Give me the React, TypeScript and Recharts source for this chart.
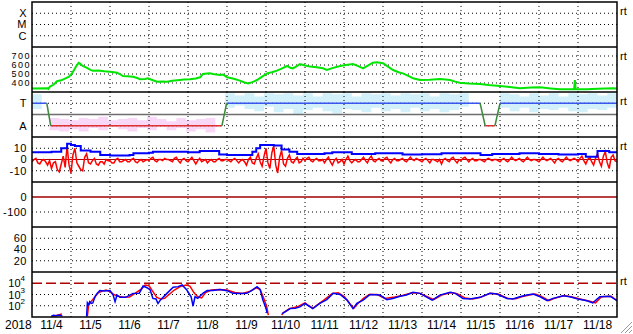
import React from 'react';
import { ComposedChart, Line, Area, XAxis, YAxis, ReferenceLine } from 'recharts';

// time axis is in days counted from 11/4 00:00 UT
const dayLabels = ['11/4', '11/5', '11/6', '11/7', '11/8', '11/9', '11/10', '11/11', '11/12', '11/13', '11/14', '11/15', '11/16', '11/17', '11/18'];
const dayBreaks = [1, 2, 3, 4, 5, 6, 7, 8, 9, 10, 11, 12, 13, 14];

const flareClasses = ['C', 'M', 'X'];
const sectorNames: Record<number, string> = { 1: 'A', 3: 'T' };
const fluxExp: Record<number, string> = { 100: '2', 1000: '3', 10000: '4' };

// solar wind speed (km/s)
const speedPoints: [number, number][] = [
  [0, 340], [0.4, 341], [0.42, 335], [0.46, 360], [0.55, 380], [0.64, 420], [0.75, 430], [0.9, 460], [0.95, 470],
  [1.03, 510], [1.1, 560], [1.15, 600], [1.2, 625], [1.23, 615], [1.3, 590], [1.41, 567], [1.5, 545], [1.56, 537],
  [1.7, 540], [1.85, 530], [2.0, 526], [2.1, 520], [2.18, 515], [2.25, 500], [2.33, 478], [2.45, 475], [2.59, 470],
  [2.7, 455], [2.77, 441], [2.9, 445], [2.97, 452], [3.1, 430], [3.21, 415], [3.35, 418], [3.46, 415], [3.6, 425],
  [3.79, 433], [3.9, 438], [4.05, 441], [4.2, 450], [4.31, 463], [4.38, 500], [4.5, 505], [4.56, 507], [4.64, 500],
  [4.82, 489], [4.9, 495], [5.0, 463], [5.15, 450], [5.33, 426], [5.45, 405], [5.54, 396], [5.65, 410], [5.77, 433],
  [5.9, 470], [6.03, 507], [6.15, 520], [6.28, 537], [6.4, 560], [6.54, 589], [6.62, 570], [6.69, 563], [6.8, 590],
  [6.87, 611], [7.0, 595], [7.13, 582], [7.3, 575], [7.46, 563], [7.56, 544], [7.7, 565], [7.9, 589], [8.05, 600],
  [8.23, 611], [8.35, 590], [8.49, 563], [8.6, 590], [8.74, 626], [8.85, 630], [9.0, 619], [9.1, 590], [9.26, 544],
  [9.4, 520], [9.51, 507], [9.65, 480], [9.77, 452], [9.95, 433], [10.2, 435], [10.46, 444], [10.6, 438], [10.72, 433],
  [10.85, 415], [10.97, 404], [11.2, 395], [11.49, 389], [11.7, 378], [12.0, 367], [12.25, 355], [12.51, 341],
  [12.8, 350], [13.03, 352], [13.3, 340], [13.54, 330], [13.9, 330], [13.92, 433], [13.94, 330], [14.23, 330],
  [14.5, 335], [14.9, 341], [15, 340],
];

// IMF sector: toward (T) and away (A) spans
const towardSpans: [number, number][] = [[0, 0.38], [4.99, 11.49], [12.0, 15]];
const awaySpans: [number, number][] = [[0.48, 4.87], [11.62, 11.87]];

// IMF angle scatter, drawn as light bands [day, low, high]
const towardCloud: [number, number | null, number | null][] = [
  [0, 2.5, 3.8], [0.25, 2.3, 3.9], [0.45, null, null], [0.8, 3.3, 3.9], [0.95, null, null],
  [4.95, 2.6, 3.9], [5.2, 2.8, 3.7], [5.45, 2.5, 3.9], [5.7, 2.3, 3.6], [5.95, 2.7, 3.9], [6.2, 2.2, 3.8],
  [6.45, 2.5, 3.9], [6.7, 2.0, 3.7], [6.95, 2.4, 3.9], [7.2, 2.6, 3.6], [7.45, 2.3, 3.9], [7.7, 2.1, 3.8],
  [7.95, 2.5, 3.9], [8.2, 2.4, 3.6], [8.45, 2.2, 3.9], [8.7, 2.6, 3.8], [8.95, 2.3, 3.9], [9.2, 2.5, 3.7],
  [9.45, 2.2, 3.9], [9.7, 2.6, 3.8], [9.95, 2.3, 3.9], [10.2, 2.5, 3.6], [10.45, 2.2, 3.9], [10.7, 2.4, 3.8],
  [10.95, 2.7, 3.9], [11.2, 2.3, 3.7], [11.45, null, null],
  [12.0, 2.6, 3.9], [12.25, 2.3, 3.8], [12.5, 2.6, 3.6], [12.75, 2.2, 3.9], [13.0, 2.5, 3.7], [13.25, 2.4, 3.9],
  [13.5, 2.6, 3.6], [13.75, 2.3, 3.9], [14.0, 2.2, 3.8], [14.25, 2.5, 3.9], [14.5, 2.4, 3.7], [14.75, 2.6, 3.9],
  [15, 2.6, 3.9],
];
const awayCloud: [number, number | null, number | null][] = [
  [0.45, 0.6, 1.7], [0.7, 0.5, 1.6], [0.95, 0.7, 1.5], [1.2, 0.5, 1.7], [1.45, 0.8, 1.6], [1.7, 0.6, 1.8],
  [1.95, 0.9, 1.5], [2.2, 0.7, 1.6], [2.45, 0.5, 1.7], [2.7, 0.8, 1.5], [2.95, 0.6, 1.8], [3.2, 0.9, 1.6],
  [3.45, 0.6, 1.4], [3.7, 0.8, 1.7], [3.95, 0.5, 1.5], [4.2, 0.7, 1.6], [4.45, 0.4, 1.7], [4.7, 0.5, 1.8],
  [4.95, null, null], [5.1, 0.9, 1.6], [5.4, null, null],
  [11.55, 0.4, 1.7], [11.85, null, null], [14.85, 0.4, 1.6], [14.95, null, null],
];

// IMF |B| (nT)
const btPoints: [number, number][] = [
  [0, 6.5], [0.5, 7], [0.75, 10], [0.9, 14], [1.0, 13], [1.1, 12], [1.25, 8], [1.5, 7], [1.75, 4], [2.0, 3.5],
  [2.5, 4], [2.6, 5.5], [3.0, 6], [3.1, 7], [3.5, 7], [4.0, 6.5], [4.3, 7.5], [4.8, 4.5], [5.0, 4], [5.5, 4],
  [5.65, 7], [5.75, 10], [5.85, 13], [6.2, 12.5], [6.4, 9], [6.6, 7], [6.8, 5], [7.5, 5.5], [7.7, 6.4], [8.2, 5],
  [8.8, 5.5], [9.5, 4.5], [10.0, 4.6], [10.5, 5.5], [11.5, 4], [11.8, 5], [12.5, 5.5], [13.0, 5], [13.5, 4.5],
  [14.0, 5], [14.2, 2.5], [14.5, 7.5], [14.8, 6.5], [15, 6.5],
];

// IMF Bz (nT), one value every 0.05 day (ten per row = half a day)
const bzStep = 0.05;
const bzValues = [
  -2, 0, 1, -3, -4, -1, 0, -2, -5, -1,
  -8, -3, -2, -9, -11, -4, 3, -7, 12, -5,
  -12, 4, 10, -3, -6, -9, -10, 2, 5, -3,
  -4, -1, 1, -4, -5, -2, -2, -4, 0, -1,
  -1, -3, -3, 0, 1, -2, -2, -1, 0, -2,
  -2, 0, 1, -2, -3, -1, 0, -2, -1, 0,
  -1, 1, 2, -1, -2, 0, 0, -1, 1, 0,
  0, -1, -2, 1, 2, -1, -3, 0, 1, -1,
  -2, 0, 2, -1, -4, -1, 1, -2, -1, 0,
  -3, -1, 0, -2, -2, 0, 1, -1, -1, 0,
  0, -1, -2, 0, 1, -1, -3, -1, 0, -2,
  -5, 0, 2, -3, -4, 1, 5, -2, -6, 3,
  10, -3, -8, 6, 12, -5, -12, 2, 8, -4,
  -6, 1, 4, -2, -3, 0, 2, -3, -2, 1,
  -1, 1, 2, -1, -2, 0, 1, -1, -1, 0,
  -3, 0, 2, -2, -5, -1, 1, -3, -2, 0,
  -4, 0, 3, -1, -3, -1, 0, -2, -2, 0,
  2, -1, -3, 1, 3, -1, -2, 0, 1, -1,
  -1, 1, 2, -1, -3, 0, 1, -1, -1, 0,
  1, -1, -2, 0, 2, 0, -1, 1, 0, -1,
  -2, 0, 1, -1, -3, 0, 0, -1, -2, 0,
  -4, 0, 1, -1, -2, 1, 2, -1, -3, 0,
  -1, 1, 2, 0, -2, 0, 1, -1, -1, 0,
  0, -1, -2, 0, 1, 0, -1, 0, 0, -1,
  -2, 0, 1, -1, -2, 0, 2, 0, -1, 0,
  1, -1, -2, 0, 2, 0, -1, 0, 0, -1,
  -2, 0, 2, 0, -1, 0, 1, -1, -3, 0,
  1, -1, -2, 0, 2, 0, -1, 0, 1, 0,
  -2, 1, 3, -1, -4, 0, 2, -2, -5, 1,
  5, -2, -6, 3, 7, -3, -8, 2, 4, -1,
  -2,
];

// particle flux (log scale), two channels
const fluxBlue: [number, number | null][] = [
  [0.5, 12], [0.55, 14], [0.62, 13], [0.7, 15], [0.78, 12], [0.8, null],
  [1.4, 11], [1.42, 180], [1.45, 120], [1.48, 230], [1.52, 160], [1.56, 180], [1.62, 700], [1.67, 1260],
  [1.74, 2240], [1.85, 2000], [2.0, 2240], [2.08, 900], [2.13, 230], [2.18, 890], [2.26, 560], [2.4, 560],
  [2.59, 1260], [2.75, 1300], [2.85, 5620], [2.95, 4000], [3.03, 2510], [3.1, 450], [3.18, 400], [3.23, 160],
  [3.3, 350], [3.46, 1260], [3.62, 4470], [3.75, 5000], [3.85, 7080], [3.97, 2510], [4.08, 630], [4.13, 95],
  [4.18, 630], [4.25, 450], [4.38, 1260], [4.49, 2240], [4.64, 2240], [4.82, 2820], [5.0, 2200], [5.15, 1260],
  [5.35, 1200], [5.51, 1260], [5.65, 2500], [5.77, 5000], [5.85, 2820], [5.92, 320], [6.0, 60], [6.03, 22],
  [6.05, null],
  [6.41, 20], [6.5, 30], [6.62, 56], [6.75, 60], [6.87, 79], [7.0, 160], [7.05, 120], [7.2, 56], [7.38, 160],
  [7.56, 350], [7.72, 1260], [7.9, 1000], [8.08, 320], [8.23, 56], [8.33, 160], [8.49, 320], [8.67, 1000],
  [8.92, 890], [9.1, 350], [9.25, 450], [9.44, 710], [9.6, 900], [9.77, 1580], [9.95, 1260], [10.13, 560],
  [10.26, 320], [10.46, 890], [10.72, 1580], [10.85, 1260], [11.05, 450], [11.23, 400], [11.49, 560],
  [11.74, 1260], [11.92, 1100], [12.18, 450], [12.33, 400], [12.51, 630], [12.69, 890], [12.85, 1100],
  [13.03, 630], [13.21, 280], [13.36, 450], [13.62, 790], [13.79, 630], [14.0, 400], [14.23, 280], [14.38, 180],
  [14.56, 630], [14.82, 710], [15, 280],
];
const fluxRed: [number, number | null][] = [
  [0.5, 12], [0.6, 13], [0.7, 16], [0.77, 19], [0.8, null],
  [1.42, 11], [1.45, 100], [1.5, 200], [1.58, 450], [1.7, 1400], [1.8, 2000], [1.9, 2500], [2.0, 1800],
  [2.1, 1000], [2.2, 700], [2.35, 560], [2.5, 600], [2.65, 1300], [2.8, 3000], [2.9, 7000], [3.0, 6000],
  [3.1, 1800], [3.2, 560], [3.3, 400], [3.4, 450], [3.5, 900], [3.65, 2500], [3.8, 5000], [3.95, 7000],
  [4.05, 5600], [4.15, 1500], [4.25, 630], [4.35, 500], [4.45, 1500], [4.6, 2500], [4.8, 2800], [5.0, 2500],
  [5.2, 1500], [5.4, 1260], [5.6, 2000], [5.75, 4000], [5.85, 2800], [5.95, 400], [6.02, 80], [6.06, 15],
  [6.08, null],
  [6.4, 15], [6.45, 25], [6.6, 56], [6.8, 80], [7.0, 180], [7.1, 100], [7.2, 60], [7.35, 150], [7.5, 350],
  [7.7, 1260], [7.85, 1400], [8.0, 700], [8.15, 150], [8.25, 60], [8.35, 150], [8.5, 450], [8.65, 1000],
  [8.85, 1000], [9.05, 450], [9.3, 600], [9.5, 800], [9.75, 1400], [9.95, 1260], [10.15, 600], [10.3, 350],
  [10.5, 890], [10.75, 1500], [10.9, 1200], [11.1, 500], [11.3, 400], [11.5, 560], [11.75, 1260], [11.95, 1100],
  [12.2, 450], [12.4, 420], [12.55, 630], [12.75, 890], [12.9, 1100], [13.05, 700], [13.25, 280], [13.4, 450],
  [13.65, 800], [13.85, 600], [14.05, 400], [14.3, 250], [14.45, 180], [14.6, 630], [14.85, 700], [15, 280],
];

const W = 633;
const PLOT_LEFT = 32;
const PLOT_RIGHT = 617;
const PANEL_H = 45;
const DATE_H = 20;
const panelTops = [2, 47, 92, 137, 182, 227, 272];
const FONT = '"Liberation Sans", Arial, sans-serif';

const toRows = (pts: [number, number | null][]) => pts.map(([t, v]) => ({ t, v }));
const bandRows = (pts: [number, number | null, number | null][]) =>
  pts.map(([t, lo, hi]) => ({ t, r: lo == null ? null : [lo, hi] }));

const speedRows = toRows(speedPoints);
const btRows = toRows(btPoints);
const bzRows = bzValues.map((v, i) => ({ t: i * bzStep, v }));
const fluxBlueRows = toRows(fluxBlue);
const fluxRedRows = toRows(fluxRed);

const T_LEVEL = 3;
const A_LEVEL = 1;
const spanRows = (spans: [number, number][], level: number) =>
  spans.flatMap(([a, b]) => [{ t: a, v: level }, { t: b, v: level }, { t: b, v: null }]);
const allSpans = [
  ...towardSpans.map(([a, b]) => ({ a, b, lvl: T_LEVEL })),
  ...awaySpans.map(([a, b]) => ({ a, b, lvl: A_LEVEL })),
].sort((p, q) => p.a - q.a);
const shiftRows = allSpans.slice(1).flatMap((s, i) => {
  const prev = allSpans[i];
  return [{ t: prev.b, v: prev.lvl }, { t: s.a, v: s.lvl }, { t: s.a, v: null }];
});

const blank = [{ t: 0, v: null }, { t: 15, v: null }];

function FluxTick({ x, y, payload }: any) {
  return (
    <text x={x} y={y + 4} textAnchor="end" fontSize={11} fill="#000" fontFamily={FONT}>
      10<tspan dy={-6} fontSize={8}>{fluxExp[payload.value]}</tspan>
    </text>
  );
}

type PanelProps = {
  top: number;
  domain: [number, number];
  ticks: number[];
  grid: number[];
  label?: (v: number) => string;
  log?: boolean;
  tickStyle?: any;
  margin?: number;
  dates?: boolean;
  children?: React.ReactNode;
};

const baseTick = { fill: '#000', fontSize: 11, letterSpacing: 0.5, fontFamily: FONT };

function Panel({ top, domain, ticks, grid, label, log, tickStyle, margin = 5, dates, children }: PanelProps) {
  return (
    <div style={{ position: 'absolute', left: 0, top }}>
      <ComposedChart
        width={W}
        height={PANEL_H + (dates ? DATE_H : 0)}
        margin={{ top: 0, right: W - PLOT_RIGHT, bottom: 0, left: 0 }}
      >
        <XAxis
          type="number"
          dataKey="t"
          domain={[0, 15]}
          allowDataOverflow
          hide={!dates}
          height={DATE_H}
          ticks={dayLabels.map((_, i) => i + 0.5)}
          tickFormatter={(v: number) => dayLabels[Math.floor(v)]}
          interval={0}
          axisLine={false}
          tickLine={false}
          tickSize={0}
          tickMargin={3}
          tick={{ fill: '#000', fontSize: 12, fontFamily: FONT }}
        />
        <YAxis
          type="number"
          width={PLOT_LEFT}
          domain={domain}
          scale={log ? 'log' : 'auto'}
          allowDataOverflow
          ticks={ticks}
          interval={0}
          axisLine={false}
          tickLine={false}
          tickSize={0}
          tickMargin={margin}
          tickFormatter={label}
          tick={tickStyle ?? baseTick}
        />
        {dayBreaks.map((d) => (
          <ReferenceLine key={'d' + d} x={d} stroke="#000" strokeDasharray="1 3" />
        ))}
        {grid.map((g) => (
          <ReferenceLine key={'g' + g} y={g} stroke="#000" strokeDasharray="1 3" />
        ))}
        {children}
      </ComposedChart>
    </div>
  );
}

export default function App() {
  const frameLines = panelTops.slice(1);
  return (
    <div style={{ position: 'absolute', left: 0, top: 0, width: W, height: 334, background: '#fff', fontFamily: FONT }}>
      {/* flare class */}
      <Panel top={panelTops[0]} domain={[0, 4]} ticks={[1, 2, 3]} grid={[1, 2, 3]} label={(v) => flareClasses[v - 1]}>
        <Line data={blank} dataKey="v" stroke="none" dot={false} isAnimationActive={false} />
      </Panel>

      {/* solar wind speed */}
      <Panel
        top={panelTops[1]}
        domain={[300, 800]}
        ticks={[400, 500, 600, 700]}
        grid={[400, 500, 600, 700]}
        margin={1}
        tickStyle={{ fill: '#000', fontSize: 9, letterSpacing: 1.5, fontFamily: FONT }}
      >
        <Line data={speedRows} dataKey="v" stroke="#00e600" strokeWidth={2} dot={false} isAnimationActive={false} />
      </Panel>

      {/* IMF sector */}
      <Panel top={panelTops[2]} domain={[0, 4]} ticks={[1, 3]} grid={[1, 3]} label={(v) => sectorNames[v]}>
        <Area data={bandRows(towardCloud)} dataKey="r" type="stepAfter" stroke="none" fill="#a6e2f6" fillOpacity={0.5} isAnimationActive={false} />
        <Area data={bandRows(awayCloud)} dataKey="r" type="stepAfter" stroke="none" fill="#f4b6f0" fillOpacity={0.55} isAnimationActive={false} />
        <ReferenceLine y={2} stroke="#6e6e6e" strokeWidth={1.5} />
        <Line data={spanRows(towardSpans, T_LEVEL)} dataKey="v" stroke="#3a56f0" strokeWidth={1.5} dot={false} isAnimationActive={false} />
        <Line data={spanRows(awaySpans, A_LEVEL)} dataKey="v" stroke="#e03030" strokeWidth={1.5} dot={false} isAnimationActive={false} />
        <Line data={shiftRows} dataKey="v" stroke="#3d8a3d" strokeWidth={1.5} dot={false} isAnimationActive={false} />
      </Panel>

      {/* IMF Bt / Bz */}
      <Panel top={panelTops[3]} domain={[-20, 20]} ticks={[-10, 0, 10]} grid={[-10, 10]}>
        <ReferenceLine y={0} stroke="#b00000" />
        <Line data={bzRows} dataKey="v" stroke="#ff0000" strokeWidth={1.5} dot={false} isAnimationActive={false} />
        <Line data={btRows} dataKey="v" type="stepAfter" stroke="#0000ff" strokeWidth={2} dot={false} isAnimationActive={false} />
      </Panel>

      {/* Dst */}
      <Panel top={panelTops[4]} domain={[-200, 100]} ticks={[-100, 0]} grid={[-100]}>
        <ReferenceLine y={0} stroke="#a00000" strokeWidth={1.5} />
        <Line data={blank} dataKey="v" stroke="none" dot={false} isAnimationActive={false} />
      </Panel>

      {/* index panel */}
      <Panel top={panelTops[5]} domain={[0, 80]} ticks={[20, 40, 60]} grid={[20, 40, 60]}>
        <Line data={blank} dataKey="v" stroke="none" dot={false} isAnimationActive={false} />
      </Panel>

      {/* particle flux */}
      <Panel
        top={panelTops[6]}
        domain={[10, 100000]}
        ticks={[100, 1000, 10000]}
        grid={[100, 1000]}
        log
        tickStyle={<FluxTick />}
        margin={7}
        dates
      >
        <ReferenceLine y={10000} stroke="#b00000" strokeWidth={1.5} strokeDasharray="10 4" />
        <Line data={fluxRedRows} dataKey="v" stroke="#ff0000" strokeWidth={1.5} dot={false} isAnimationActive={false} />
        <Line data={fluxBlueRows} dataKey="v" stroke="#0000ff" strokeWidth={1.5} dot={false} isAnimationActive={false} />
      </Panel>

      <svg width={W} height={334} style={{ position: 'absolute', left: 0, top: 0, pointerEvents: 'none' }}>
        <rect
          x={PLOT_LEFT}
          y={panelTops[0]}
          width={PLOT_RIGHT - PLOT_LEFT}
          height={panelTops[6] + PANEL_H - panelTops[0]}
          fill="none"
          stroke="#000"
          strokeWidth={1.5}
        />
        {frameLines.map((y) => (
          <line key={y} x1={PLOT_LEFT} x2={PLOT_RIGHT} y1={y} y2={y} stroke="#000" strokeWidth={1.5} />
        ))}
        {[0, 4, 8].map((o) => (
          <line key={o} x1={621 + o} y1={333} x2={632} y2={322 + o} stroke="#9a9a9a" strokeWidth={1} />
        ))}
      </svg>

      {[0, 1, 2, 3, 6].map((i) => (
        <div
          key={i}
          style={{ position: 'absolute', left: 620, top: panelTops[i] + 3, fontSize: 11, lineHeight: '12px', color: '#000' }}
        >
          rt
        </div>
      ))}
      <div style={{ position: 'absolute', left: 5, top: 318, fontSize: 12, lineHeight: '14px', color: '#000' }}>2018</div>
    </div>
  );
}
